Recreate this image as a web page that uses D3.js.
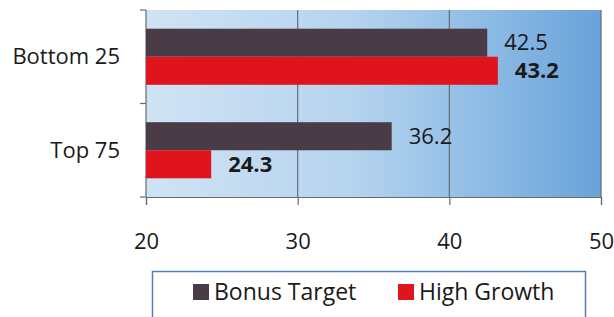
<!DOCTYPE html>
<html>
<head>
<meta charset="utf-8">
<script src="https://cdn.jsdelivr.net/npm/d3@7"></script>
<style>
  body { margin: 0; background: #fff; }
  text { font-family: "Open Sans", sans-serif; }
</style>
</head>
<body>
<div id="chart"></div>
<script>
// data
var categories = ["Bottom 25", "Top 75"];
var seriesNames = ["Bonus Target", "High Growth"];
var bonusTarget = [42.5, 36.2];
var highGrowth = [43.2, 24.3];
var xTicks = [20, 30, 40, 50];

var palette = {
    "bonus": "#4a3c47",
    "growth": "#e0141c",
    "grid": "#666b70",
    "text": "#1a1a1a"
};

var w = 614, h = 317;
var margin = {left: 146, right: 13, top: 10, bottom: 120};

var svg = d3.select("#chart").append("svg")
    .attr("width", w)
    .attr("height", h);

var defs = svg.append("defs");
var grad = defs.append("linearGradient")
    .attr("id", "bg")
    .attr("x1", "0%").attr("y1", "0%")
    .attr("x2", "100%").attr("y2", "0%");
grad.append("stop").attr("offset", "0%").attr("stop-color", "#d0e3f4");
grad.append("stop").attr("offset", "45%").attr("stop-color", "#b6d4ef");
grad.append("stop").attr("offset", "75%").attr("stop-color", "#8dbbe5");
grad.append("stop").attr("offset", "100%").attr("stop-color", "#6aa3d9");

var x = d3.scaleLinear()
    .domain([20, 50])
    .range([margin.left, w - margin.right]);

var y0 = d3.scaleBand()
    .domain(categories)
    .range([margin.top, h - margin.bottom])
    .paddingInner(0.4)
    .paddingOuter(0.2);

var y1 = d3.scaleBand()
    .domain(seriesNames)
    .range([0, y0.bandwidth()]);

// plot background
svg.append("rect")
    .attr("x", x(20))
    .attr("y", margin.top)
    .attr("width", x(50) - x(20))
    .attr("height", h - margin.bottom - margin.top)
    .attr("fill", "url(#bg)");

// vertical grid lines
svg.selectAll(".grid")
    .data(xTicks.slice(1))
    .enter().append("line")
    .attr("class", "grid")
    .attr("x1", function(d) { return x(d); })
    .attr("x2", function(d) { return x(d); })
    .attr("y1", margin.top)
    .attr("y2", h - margin.bottom)
    .attr("stroke", palette.grid)
    .attr("stroke-width", 1.2);

// bottom axis
var xAxis = svg.append("g")
    .attr("transform", "translate(0," + (h - margin.bottom) + ")")
    .call(d3.axisBottom(x).tickValues(xTicks).tickSize(8).tickPadding(28));
xAxis.select(".domain").attr("stroke", palette.grid).attr("stroke-width", 1.2);
xAxis.selectAll(".tick line").attr("stroke", palette.grid).attr("stroke-width", 1.2);
xAxis.selectAll("text")
    .attr("font-size", "22px")
    .attr("fill", palette.text)
    .attr("font-family", "Open Sans");

// left axis, ticks sit between categories
var yEdges = [margin.top, (y0(categories[0]) + y0.bandwidth() + y0(categories[1])) / 2, h - margin.bottom];
svg.append("line")
    .attr("x1", x(20)).attr("x2", x(20))
    .attr("y1", margin.top).attr("y2", h - margin.bottom)
    .attr("stroke", palette.grid).attr("stroke-width", 1.2);
svg.selectAll(".ytick")
    .data(yEdges)
    .enter().append("line")
    .attr("class", "ytick")
    .attr("x1", x(20) - 6).attr("x2", x(20))
    .attr("y1", function(d) { return d; })
    .attr("y2", function(d) { return d; })
    .attr("stroke", palette.grid).attr("stroke-width", 1.2);

svg.selectAll(".cat")
    .data(categories)
    .enter().append("text")
    .attr("class", "cat")
    .attr("x", 120)
    .attr("y", function(d) { return y0(d) + y0.bandwidth() / 2; })
    .attr("dy", "0.35em")
    .attr("text-anchor", "end")
    .attr("font-size", "22px")
    .attr("fill", palette.text)
    .text(function(d) { return d; });

// bars
var rows = [];
categories.forEach(function(c, i) {
    rows.push({cat: c, s: seriesNames[0], v: bonusTarget[i], color: palette.bonus, bold: false});
    rows.push({cat: c, s: seriesNames[1], v: highGrowth[i], color: palette.growth, bold: true});
});

svg.selectAll(".bar")
    .data(rows)
    .enter().append("rect")
    .attr("class", "bar")
    .attr("x", x(20))
    .attr("y", function(d) { return y0(d.cat) + y1(d.s); })
    .attr("width", function(d) { return x(d.v) - x(20); })
    .attr("height", y1.bandwidth())
    .attr("fill", function(d) { return d.color; });

svg.selectAll(".val")
    .data(rows)
    .enter().append("text")
    .attr("class", "val")
    .attr("x", function(d) { return x(d.v) + 17; })
    .attr("y", function(d) { return y0(d.cat) + y1(d.s) + y1.bandwidth() / 2; })
    .attr("dy", "0.35em")
    .attr("font-size", "22px")
    .attr("font-weight", function(d) { return d.bold ? "bold" : "normal"; })
    .attr("fill", palette.text)
    .text(function(d) { return d.v.toFixed(1); });

// legend
var lg = svg.append("g");
lg.append("rect")
    .attr("x", 152.5).attr("y", 271.5)
    .attr("width", 433).attr("height", 60)
    .attr("fill", "#fff")
    .attr("stroke", "#4f81bd")
    .attr("stroke-width", 1.5);

var legendX = [193, 398];
seriesNames.forEach(function(s, i) {
    lg.append("rect")
        .attr("x", legendX[i]).attr("y", 284)
        .attr("width", 16).attr("height", 16)
        .attr("fill", i == 0 ? palette.bonus : palette.growth);
    lg.append("text")
        .attr("x", legendX[i] + 21).attr("y", 292)
        .attr("dy", "0.35em")
        .attr("font-size", "23px")
        .attr("fill", palette.text)
        .text(s);
});
</script>
</body>
</html>
